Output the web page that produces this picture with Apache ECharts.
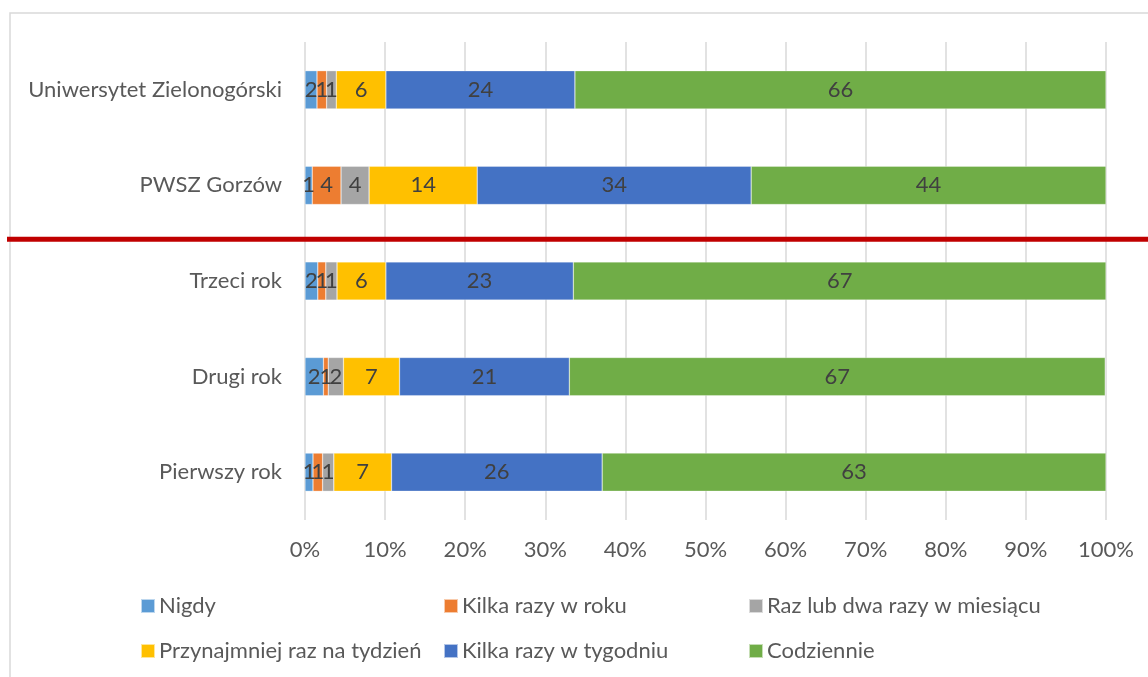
<!DOCTYPE html>
<html>
<head>
<meta charset="utf-8">
<script src="https://cdn.jsdelivr.net/npm/echarts@6/dist/echarts.min.js"></script>
<style>
    html, body { margin: 0; padding: 0; background: #fff; }
    #chart { width: 1148px; height: 677px; }
</style>
</head>
<body>
<div id="chart"></div>
<script>
// kategorie (od góry)
var categories = ['Uniwersytet Zielonogórski', 'PWSZ Gorzów', 'Trzeci rok', 'Drugi rok', 'Pierwszy rok'];

// odpowiedzi w %
var nigdy = [1.5, 0.9, 1.6, 2.3, 1.0];
var kilkaRazyWRoku = [1.2, 3.6, 1.0, 0.6, 1.2];
var razLubDwaWMiesiacu = [1.2, 3.5, 1.4, 1.9, 1.4];
var przynajmniejRazNaTydzien = [6.2, 13.5, 6.1, 7.0, 7.2];
var kilkaRazyWTygodniu = [23.6, 34.2, 23.4, 21.2, 26.3];
var codziennie = [66.3, 44.3, 66.5, 66.9, 62.9];

var seriesNames = ['Nigdy', 'Kilka razy w roku', 'Raz lub dwa razy w miesiącu',
    'Przynajmniej raz na tydzień', 'Kilka razy w tygodniu', 'Codziennie'];
var seriesValues = [nigdy, kilkaRazyWRoku, razLubDwaWMiesiacu,
    przynajmniejRazNaTydzien, kilkaRazyWTygodniu, codziennie];
var colors = ['#5B9BD5', '#ED7D31', '#A5A5A5', '#FFC000', '#4472C4', '#70AD47'];

var font = 'Lato';
var fontSize = 22;

var chart = echarts.init(document.getElementById('chart'));

var series = seriesNames.map(function(name, i) {
    return {
        name: name,
        type: 'bar',
        stack: 'total',
        barCategoryGap: '60%',
        data: seriesValues[i],
        itemStyle: { color: colors[i], borderColor: 'rgba(255,255,255,0.6)', borderWidth: 0.5 },
        label: {
            show: true,
            position: 'inside',
            color: '#404040',
            fontFamily: font,
            fontSize: fontSize,
            formatter: function(p) { return Math.round(p.value); }
        }
    };
});

// legenda w dwóch wierszach po trzy kolumny
var legendCols = [140, 443, 748];
var legendRows = [594, 639];
var legends = seriesNames.map(function(name, i) {
    return {
        data: [name],
        left: legendCols[i % 3],
        top: legendRows[Math.floor(i / 3)],
        itemWidth: 14,
        itemHeight: 14,
        itemGap: 6,
        icon: 'rect',
        padding: 0,
        textStyle: { color: '#595959', fontFamily: font, fontSize: fontSize, lineHeight: 24, padding: [0, 0, 0, -1] }
    };
});

var option = {
    animation: false,
    color: colors,
    legend: legends,
    grid: { left: 305, right: 42, top: 42, bottom: 157 },
    xAxis: {
        type: 'value',
        min: 0,
        max: 100,
        interval: 10,
        axisLine: { show: false },
        axisTick: { show: false },
        splitLine: { lineStyle: { color: '#D9D9D9', width: 1.5 } },
        axisLabel: {
            formatter: '{value}%',
            color: '#595959',
            fontFamily: font,
            fontSize: fontSize,
            margin: 19
        }
    },
    yAxis: {
        type: 'category',
        data: categories,
        inverse: true,
        axisLine: { show: false },
        axisTick: { show: false },
        axisLabel: {
            color: '#595959',
            fontFamily: font,
            fontSize: fontSize,
            margin: 23
        }
    },
    series: series
};
chart.setOption(option);

// ramka wykresu i czerwona linia oddzielająca uczelnie od roczników
var y1 = chart.convertToPixel({ yAxisIndex: 0 }, categories[1]);
var y2 = chart.convertToPixel({ yAxisIndex: 0 }, categories[2]);
var sepY = (y1 + y2) / 2 + 6;

chart.setOption({
    graphic: [
        {
            type: 'rect',
            shape: { x: 10, y: 13, width: 1160, height: 700 },
            style: { fill: 'none', stroke: '#D9D9D9', lineWidth: 1.5 },
            silent: true,
            z: -1
        },
        {
            type: 'line',
            shape: { x1: 7, y1: sepY, x2: 1148, y2: sepY },
            style: { stroke: '#C00000', lineWidth: 5 },
            silent: true,
            z: 100
        }
    ]
});

window.addEventListener('resize', function() {
    chart.resize();
});
</script>
</body>
</html>
